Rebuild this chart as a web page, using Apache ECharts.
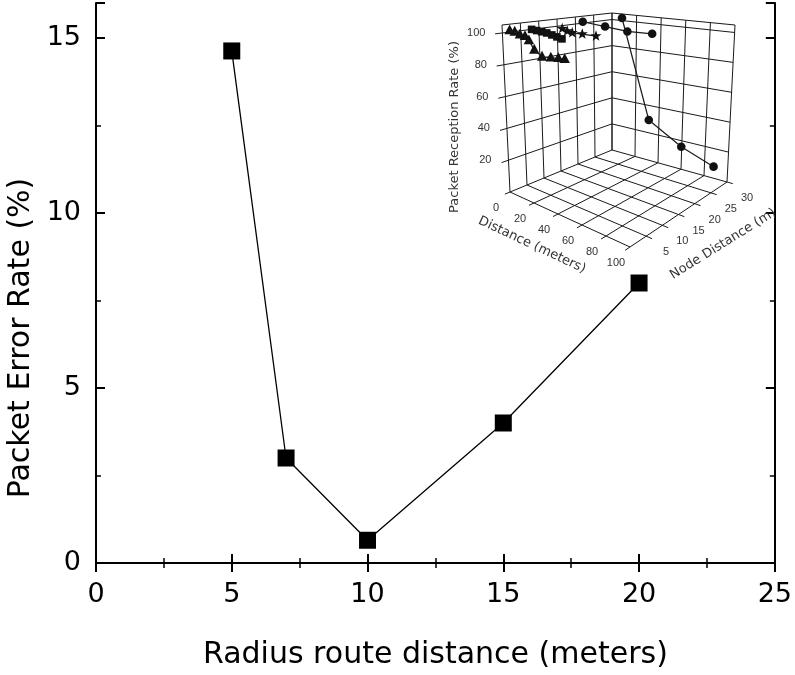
<!DOCTYPE html>
<html><head><meta charset="utf-8">
<script src="https://cdn.jsdelivr.net/npm/echarts@6/dist/echarts.min.js"></script>
<style>html,body{margin:0;padding:0;background:#fff}#c{width:795px;height:675px}</style>
</head><body><div id="c"></div>
<script>
// ---- main chart data ----
const radius = [5, 7, 10, 15, 20];
const errorRate = [14.63, 3.0, 0.65, 4.0, 8.0];

// ---- inset (3D) axis ticks ----
const insetDistTicks = [0, 20, 40, 60, 80, 100];
const insetNodeTicks = [5, 10, 15, 20, 25, 30];
const insetPrrTicks = [20, 40, 60, 80, 100];

// ---- inset series: distance (m), node distance (m), packet reception rate (%) ----
const circAdist = [0, 18, 36, 56];
const circAnode = [22, 22, 22, 22];
const circAprr  = [101, 100, 99, 100];
const circBdist = [17, 40, 68, 96];
const circBnode = [27, 27, 27, 27];
const circBprr  = [104, 34, 21, 13.5];
const starDist = [4, 8, 12, 20, 31];
const starNode = [15, 15, 15, 15, 15];
const starPrr  = [99, 98, 97.5, 98, 98.5];
const sqDist = [0, 4, 8, 12, 16, 20, 24];
const sqNode = [8, 8, 8, 8, 8, 8, 8];
const sqPrr  = [100, 100, 100, 100, 99.5, 99, 98.5];
const triDist = [0, 4, 8, 12, 15, 19, 25, 32, 38, 43];
const triNode = [2, 2, 2, 2, 2, 2, 2, 2, 2, 2];
const triPrr  = [101, 101, 100, 100, 98, 93, 90, 91, 92, 92.5];

// ---- inset projection (box corners in pixels) ----
const D_MAX = 100, N_MAX = 30, Z_MAX = 105;
const C = {L:[510,192], F:[630,247], R:[727,182], B:[612,150],
           LT:[502,25], FT:[630,60], RT:[735,25], BT:[612,13]};
function bil(a, b, c, d, u, v) {
  return [0, 1].map(k => a[k]*(1-u)*(1-v) + b[k]*u*(1-v) + c[k]*u*v + d[k]*(1-u)*v);
}
function proj(dd, nn, zz) {
  const u = dd / D_MAX, v = nn / N_MAX, w = zz / Z_MAX;
  const f = bil(C.L, C.F, C.R, C.B, u, v), t = bil(C.LT, C.FT, C.RT, C.BT, u, v);
  return [f[0] + (t[0]-f[0])*w, f[1] + (t[1]-f[1])*w];
}

const INK = '#1a1a1a';
const LABEL_C = '#333';
function seg(p, q, w) {
  return {type:'line', shape:{x1:p[0], y1:p[1], x2:q[0], y2:q[1]}, style:{stroke:INK, lineWidth:w||1}};
}
function txt(s, x, y, opt) {
  opt = opt || {};
  return {type:'text', x:x, y:y, rotation:opt.rot||0,
    style:{text:s, fill:opt.fill||LABEL_C, font:opt.font||'11px "Liberation Sans"',
      align:opt.align||'center', verticalAlign:opt.va||'middle'}};
}

function boxRender() {
  const ch = [];
  const nodeGrid = [0].concat(insetNodeTicks);
  const zLines = insetPrrTicks.concat([Z_MAX]);
  // floor
  insetDistTicks.forEach(d => ch.push(seg(proj(d,0,0), proj(d,N_MAX,0))));
  nodeGrid.forEach(n => ch.push(seg(proj(0,n,0), proj(D_MAX,n,0))));
  // left wall (distance = 0)
  nodeGrid.forEach(n => ch.push(seg(proj(0,n,0), proj(0,n,Z_MAX))));
  zLines.forEach(z => ch.push(seg(proj(0,0,z), proj(0,N_MAX,z))));
  // back wall (node = max)
  insetDistTicks.forEach(d => ch.push(seg(proj(d,N_MAX,0), proj(d,N_MAX,Z_MAX))));
  zLines.forEach(z => ch.push(seg(proj(0,N_MAX,z), proj(D_MAX,N_MAX,z))));
  // ticks
  insetPrrTicks.forEach(z => ch.push(seg(proj(0,0,z), proj(0,-2,z))));
  insetDistTicks.forEach(d => ch.push(seg(proj(d,0,0), proj(d,-1.5,0))));
  insetNodeTicks.forEach(n => ch.push(seg(proj(D_MAX,n,0), proj(D_MAX+5,n,0))));
  // tick labels
  insetPrrTicks.forEach(z => { const p = proj(0,0,z); ch.push(txt(String(z), p[0]-17, p[1], {align:'right'})); });
  insetDistTicks.forEach(d => { const p = proj(d,0,0); ch.push(txt(String(d), p[0]-14, p[1]+16)); });
  insetNodeTicks.forEach(n => { const p = proj(D_MAX,n,0); ch.push(txt(String(n), p[0]+20, p[1]+16)); });
  // axis titles
  const tf = '13px "DejaVu Sans"';
  ch.push(txt('Packet Reception Rate (%)', 455, 127, {rot:Math.PI/2, font:tf}));
  ch.push(txt('Distance (meters)', 532, 245, {rot:-25*Math.PI/180, font:tf}));
  ch.push(txt('Node Distance (m)', 723, 244, {rot:32*Math.PI/180, font:tf}));
  // main y-axis title (placed as in the reference, below centre)
  ch.push(txt('Packet Error Rate (%)', 21, 338,
    {rot:Math.PI/2, font:'30px "DejaVu Sans"', fill:'#000'}));
  return {type:'group', children:ch};
}

function marker(kind, x, y) {
  if (kind === 'circle') return {type:'circle', shape:{cx:x, cy:y, r:4.3}, style:{fill:'#111'}};
  if (kind === 'rect') return {type:'rect', shape:{x:x-3.8, y:y-3.8, width:7.6, height:7.6}, style:{fill:'#111'}};
  if (kind === 'triangle') return {type:'polygon', shape:{points:[[x,y-6],[x-5.2,y+3.8],[x+5.2,y+3.8]]}, style:{fill:'#111'}};
  const pts = [];
  for (let k = 0; k < 10; k++) {
    const a = -Math.PI/2 + k*Math.PI/5, r = k % 2 ? 2.3 : 5.8;
    pts.push([x + r*Math.cos(a), y + r*Math.sin(a)]);
  }
  return {type:'polygon', shape:{points:pts}, style:{fill:'#111'}};
}

function insetSeries(dist, node, prr, kind) {
  const data = dist.map((d, i) => [d, node[i], prr[i]]);
  return {
    type:'custom', coordinateSystem:'none', data:data, silent:true, z:3,
    renderItem: function (params, api) {
      const i = params.dataIndex;
      const p = proj(api.value(0), api.value(1), api.value(2));
      const ch = [];
      if (i > 0) {
        const q = proj(data[i-1][0], data[i-1][1], data[i-1][2]);
        ch.push(seg(q, p, 1.2));
      }
      ch.push(marker(kind, p[0], p[1]));
      return {type:'group', children:ch};
    }
  };
}

const FONT = 'DejaVu Sans';
const chart = echarts.init(document.getElementById('c'), null, {renderer:'canvas'});
const tickLine = {color:'#000', width:2};
chart.setOption({
  animation:false,
  backgroundColor:'#fff',
  grid:{left:96, right:15, top:3, bottom:111, containLabel:false},
  xAxis:[
    {type:'value', min:0, max:25, interval:5, position:'bottom',
     axisLine:{lineStyle:{color:'#000', width:2}},
     axisTick:{inside:true, length:9, lineStyle:tickLine},
     minorTick:{show:true, splitNumber:2, length:5, lineStyle:{color:'#000', width:1.5}},
     splitLine:{show:false},
     axisLabel:{fontSize:27, color:'#000', margin:18, fontFamily:FONT},
     name:'Radius route distance (meters)', nameLocation:'middle', nameGap:77,
     nameTextStyle:{fontSize:30, color:'#000', fontFamily:FONT}},
    {type:'value', min:0, max:25, interval:5, position:'top',
     axisLine:{lineStyle:{color:'#000', width:2}},
     axisTick:{inside:true, length:9, lineStyle:tickLine},
     minorTick:{show:true, splitNumber:2, length:5, lineStyle:{color:'#000', width:1.5}},
     splitLine:{show:false}, axisLabel:{show:false}}
  ],
  yAxis:[
    {type:'value', min:0, max:16, interval:5, position:'left',
     axisLine:{show:true, lineStyle:{color:'#000', width:2}},
     axisTick:{show:true, inside:true, length:9, lineStyle:tickLine},
     splitLine:{show:false},
     axisLabel:{fontSize:27, color:'#000', margin:15, fontFamily:FONT,
       formatter: v => (v % 5 === 0 ? String(v) : '')}},
    {type:'value', min:0, max:16, interval:2.5, position:'left',
     axisLine:{show:false}, axisTick:{show:true, inside:true, length:5, lineStyle:{color:'#000', width:1.5}},
     splitLine:{show:false}, axisLabel:{show:false}},
    {type:'value', min:0, max:16, interval:5, position:'right',
     axisLine:{show:true, lineStyle:{color:'#000', width:2}},
     axisTick:{show:true, inside:true, length:9, lineStyle:tickLine},
     splitLine:{show:false}, axisLabel:{show:false}},
    {type:'value', min:0, max:16, interval:2.5, position:'right',
     axisLine:{show:false}, axisTick:{show:true, inside:true, length:5, lineStyle:{color:'#000', width:1.5}},
     splitLine:{show:false}, axisLabel:{show:false}}
  ],
  series:[
    {type:'custom', coordinateSystem:'none', data:[[0]], silent:true, z:2, renderItem: boxRender},
    insetSeries(triDist, triNode, triPrr, 'triangle'),
    insetSeries(sqDist, sqNode, sqPrr, 'rect'),
    insetSeries(starDist, starNode, starPrr, 'star'),
    insetSeries(circAdist, circAnode, circAprr, 'circle'),
    insetSeries(circBdist, circBnode, circBprr, 'circle'),
    {type:'line', xAxisIndex:0, yAxisIndex:0, z:5,
     data: radius.map((x, i) => [x, errorRate[i]]),
     symbol:'rect', symbolSize:17,
     lineStyle:{color:'#000', width:1.3},
     itemStyle:{color:'#000'}}
  ]
});
</script>
</body></html>
